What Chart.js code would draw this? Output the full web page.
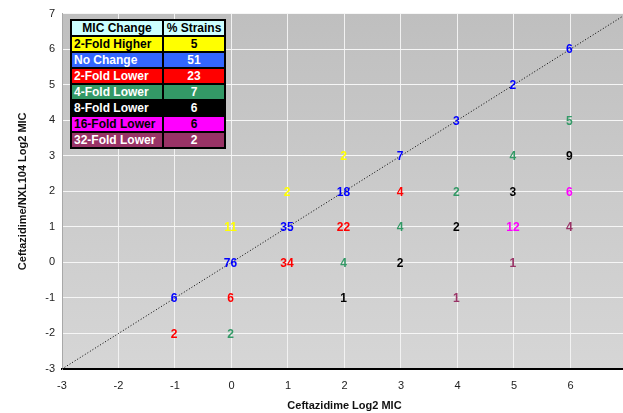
<!DOCTYPE html>
<html>
<head>
<meta charset="utf-8">
<script src="https://cdn.jsdelivr.net/npm/chart.js@4"></script>
<style>
  body { margin: 0; overflow: hidden; background: #fff; font-family: "Liberation Sans", Arial, sans-serif; }
  #wrap { position: relative; width: 640px; height: 413px; }
  #legendTable {
    position: absolute; left: 70px; top: 19px;
    border-collapse: collapse; border: 2px solid #000;
    font: bold 12px "Liberation Sans", Arial, sans-serif;
  }
  #legendTable td, #legendTable th {
    border: 2px solid #000; padding: 0 2px; height: 14px; line-height: 14px;
  }
  #legendTable th { background: #ccffff; color: #000; text-align: center; }
  #legendTable td.pct { text-align: center; }
</style>
</head>
<body>
<div id="wrap">
  <canvas id="micChart"></canvas>
  <table id="legendTable"></table>
</div>
<script>
// legend table
const categories = ['2-Fold Higher', 'No Change', '2-Fold Lower', '4-Fold Lower', '8-Fold Lower', '16-Fold Lower', '32-Fold Lower'];
const strainPct = [5, 51, 23, 7, 6, 6, 2];
const rowColors = ['#ffff00', '#3366ff', '#ff0000', '#339966', '#000000', '#ff00ff', '#993366'];
const rowText = ['#000', '#fff', '#fff', '#fff', '#fff', '#000', '#fff'];
const labelColors = ['#ffff00', '#0000ff', '#ff0000', '#339966', '#000000', '#ff00ff', '#993366'];

// [x, y, count] per category
const higher2 = [[0, 1, 11], [1, 2, 2], [2, 3, 2]];
const noChange = [[-1, -1, 6], [0, 0, 76], [1, 1, 35], [2, 2, 18], [3, 3, 7], [4, 4, 3], [5, 5, 2], [6, 6, 6]];
const lower2 = [[-1, -2, 2], [0, -1, 6], [1, 0, 34], [2, 1, 22], [3, 2, 4]];
const lower4 = [[0, -2, 2], [2, 0, 4], [3, 1, 4], [4, 2, 2], [5, 3, 4], [6, 4, 5]];
const lower8 = [[2, -1, 1], [3, 0, 2], [4, 1, 2], [5, 2, 3], [6, 3, 9]];
const lower16 = [[5, 1, 12], [6, 2, 6]];
const lower32 = [[4, -1, 1], [5, 0, 1], [6, 1, 4]];
const groups = [higher2, noChange, lower2, lower4, lower8, lower16, lower32];

const identityLine = [-3, 7];

// build the html table
const table = document.getElementById('legendTable');
let html = '<tr><th style="width:86px">MIC Change</th><th style="width:56px">% Strains</th></tr>';
categories.forEach((c, i) => {
    html += `<tr style="background:${rowColors[i]};color:${rowText[i]}"><td>${c}</td><td class="pct">${strainPct[i]}</td></tr>`;
});
table.innerHTML = html;

const datasets = groups.map((g, i) => ({
    label: categories[i],
    data: g.map(p => ({ x: p[0], y: p[1], n: p[2] })),
    pointRadius: 0,
    showLine: false,
    textColor: labelColors[i]
}));
datasets.push({
    label: 'identity',
    data: identityLine.map(v => ({ x: v, y: v })),
    showLine: true,
    borderColor: '#000',
    borderWidth: 1,
    borderDash: [1, 2],
    pointRadius: 0
});

const bgPlugin = {
    id: 'bg',
    beforeDraw(chart) {
        const { ctx, chartArea: a } = chart;
        const grad = ctx.createLinearGradient(0, a.top, 0, a.bottom);
        grad.addColorStop(0, '#bfbfbf');
        grad.addColorStop(1, '#d6d6d6');
        ctx.save();
        ctx.fillStyle = grad;
        ctx.fillRect(a.left, a.top, a.right - a.left, a.bottom - a.top);
        ctx.restore();
    }
};

const countLabels = {
    id: 'counts',
    afterDatasetsDraw(chart) {
        const ctx = chart.ctx;
        ctx.save();
        ctx.font = 'bold 12px "Liberation Sans", Arial, sans-serif';
        ctx.textAlign = 'center';
        ctx.textBaseline = 'middle';
        chart.data.datasets.forEach((ds, i) => {
            if (!ds.textColor) return;
            const meta = chart.getDatasetMeta(i);
            meta.data.forEach((pt, j) => {
                ctx.fillStyle = ds.textColor;
                ctx.fillText(ds.data[j].n, pt.x - 1, pt.y + 1);
            });
        });
        ctx.restore();
    }
};

const tickFont = { family: '"Liberation Sans", Arial, sans-serif', size: 11 };
const titleFont = { family: '"Liberation Sans", Arial, sans-serif', size: 11, weight: 'bold' };

new Chart(document.getElementById('micChart'), {
    type: 'scatter',
    data: { datasets },
    plugins: [bgPlugin, countLabels],
    options: {
        responsive: true,
        maintainAspectRatio: false,
        animation: false,
        layout: { padding: { top: 12, right: 8, left: 0, bottom: 0 } },
        plugins: { legend: { display: false }, tooltip: { enabled: false } },
        scales: {
            x: {
                type: 'linear', min: -3, max: 7,
                ticks: { stepSize: 1, color: '#222', font: tickFont, padding: 10 },
                grid: { color: '#f2f2f2', drawTicks: false },
                border: { color: '#000', width: 2 },
                title: { display: true, text: 'Ceftazidime Log2 MIC', color: '#111', font: titleFont, padding: { top: 0, bottom: 0 } },
                afterFit(s) { s.height = 44; }
            },
            y: {
                type: 'linear', min: -3, max: 7,
                ticks: { stepSize: 1, color: '#222', font: tickFont, padding: 7 },
                grid: { color: '#f6f6f6', drawTicks: false },
                border: { color: '#a8a8a8', width: 1 },
                title: { display: true, text: 'Ceftazidime/NXL104 Log2 MIC', color: '#111', font: titleFont, padding: { top: 16, bottom: 0 } },
                afterFit(s) { s.width = 62; }
            }
        }
    }
});
</script>
</body>
</html>
